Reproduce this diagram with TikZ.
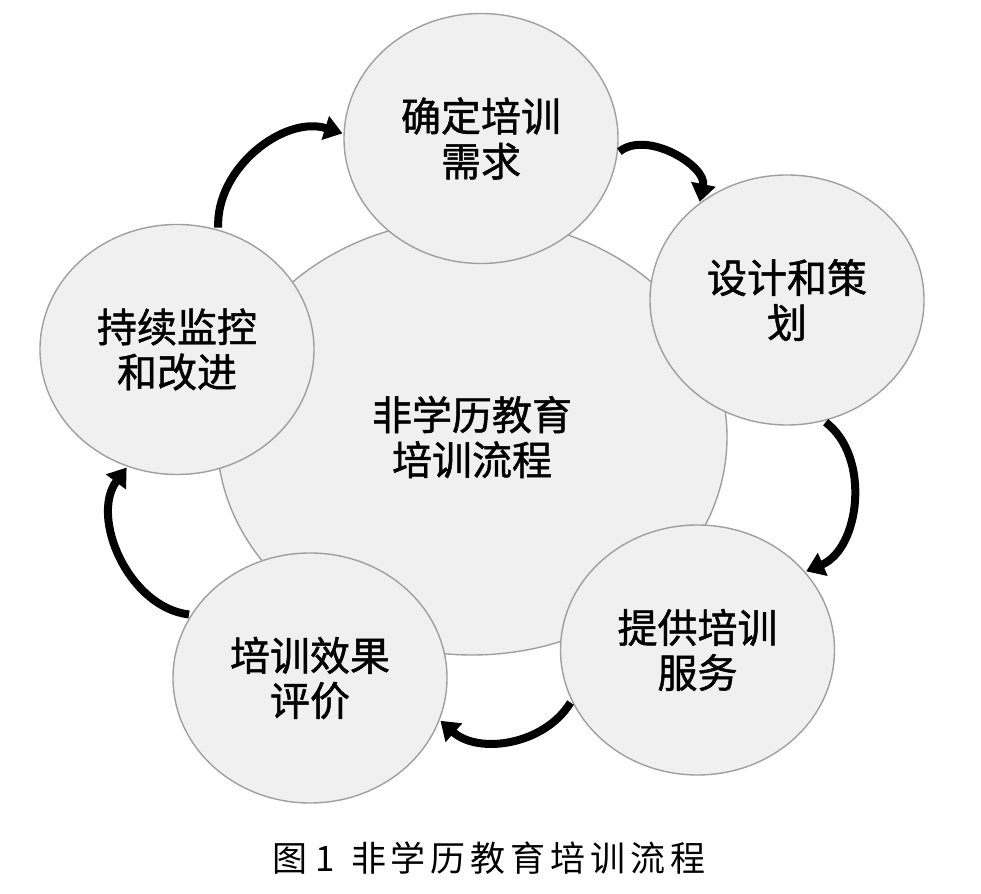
\documentclass[tikz,border=0pt]{standalone}
\usepackage{fontspec}
\newfontfamily\cjk[FakeBold=1.2]{Noto Sans CJK SC}
\newfontfamily\capfont[LetterSpace=14]{Noto Sans CJK SC}
\usetikzlibrary{shapes.geometric,arrows.meta}

\begin{document}
\begin{tikzpicture}[x=1pt, y=1pt,
		stage/.style={draw=gray!75, line width=1.4pt, fill=black!6, ellipse, minimum width=274pt, minimum height=250pt, inner sep=0pt, align=center, font=\cjk\fontsize{40}{45}\selectfont},
		flow/.style={-{Triangle[length=18pt, width=24pt]}, line width=8pt, shorten <=2pt, shorten >=1pt}]
			\useasboundingbox (0,0) rectangle (981,893);

			\node[stage, minimum width=510pt, minimum height=436pt] (core) at (472,456) {非学历教育\\培训流程};

			\node[stage] (need) at (481,754.5) {确定培训\\需求};
			\node[stage] (design) at (787,593) {设计和策\\划};
			\node[stage] (service) at (697.5,243) {提供培训\\服务};
			\node[stage] (evaluation) at (310,215) {培训效果\\评价};
			\node[stage] (monitor) at (177,543.5) {持续监控\\和改进};

			\draw[flow] (monitor.71) to [bend left = 55] (need.178);
			\draw[flow] (need.-6) to [bend left = 70] (design.132);
			\draw[flow] (design.-73) to [bend left = 60] (service.36);
			\draw[flow] (service.202) to [bend left = 50] (evaluation.-18);
			\draw[flow] (evaluation.152) to [bend left = 60] (monitor.247);

			\node[font=\capfont\fontsize{35}{40}\selectfont] (caption) at (489,35) {图\hspace{8pt}1\hspace{16pt}非学历教育培训流程};

		\end{tikzpicture}
\end{document}
